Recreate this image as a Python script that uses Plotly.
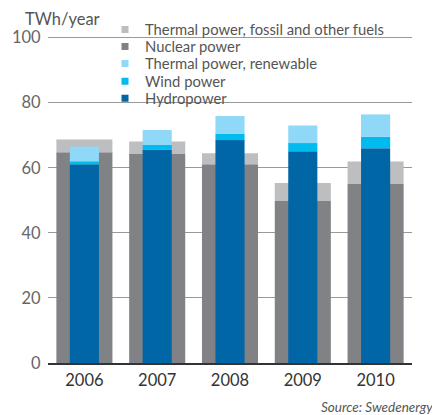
import plotly.graph_objects as go
import numpy as np

years = ["2006", "2007", "2008", "2009", "2010"]
nuclear = [64.8, 64.2, 61.1, 49.8, 55.0]
fossil = [3.9, 3.9, 3.4, 5.5, 6.9]
hydro = [61.0, 65.5, 68.5, 65.1, 66.0]
wind = [0.9, 1.5, 2.0, 2.5, 3.5]
thermal_renew = [4.6, 4.6, 5.4, 5.4, 6.9]
y_ticks = [0, 20, 40, 60, 80, 100]

C_FOSSIL = "#bcbec0"
C_NUCLEAR = "#808285"
C_TREN = "#8fd8f7"
C_WIND = "#00bbee"
C_HYDRO = "#0066a6"

FONT = "Lato, sans-serif"
W_GREY = 0.77
W_BLUE = 0.40

nuc = np.array(nuclear)
hyd = np.array(hydro)
wnd = np.array(wind)

fig = go.Figure()

def bar(y, base, color, width):
    fig.add_trace(go.Bar(
        x=years, y=y, base=base, width=width,
        marker=dict(color=color, line=dict(width=0)),
        showlegend=False, hoverinfo="x+y",
    ))

bar(nuclear, [0] * len(years), C_NUCLEAR, W_GREY)
bar(fossil, nuc.tolist(), C_FOSSIL, W_GREY)
bar(hydro, [0] * len(years), C_HYDRO, W_BLUE)
bar(wind, hyd.tolist(), C_WIND, W_BLUE)
bar(thermal_renew, (hyd + wnd).tolist(), C_TREN, W_BLUE)

legend_items = [
    ("Thermal power, fossil and other fuels", C_FOSSIL),
    ("Nuclear power", C_NUCLEAR),
    ("Thermal power, renewable", C_TREN),
    ("Wind power", C_WIND),
    ("Hydropower", C_HYDRO),
]
row_y = [1.0185, 0.9665, 0.9145, 0.8605, 0.8085]

legend_layouts = {}
for i, ((name, color), ly) in enumerate(zip(legend_items, row_y)):
    key = "legend" if i == 0 else f"legend{i + 1}"
    fig.add_trace(go.Scatter(
        x=[None], y=[None], mode="markers", name=name,
        marker=dict(symbol="square", size=7, color=color),
        legend=key, showlegend=True,
    ))
    legend_layouts[key] = dict(
        x=0.1566, y=ly, xanchor="left", yanchor="middle",
        bgcolor="rgba(0,0,0,0)", borderwidth=0,
        font=dict(size=14.8, color="#555555", family=FONT),
        itemwidth=30,
    )

# page body adds an 8px offset; the figure is sized to fit the 440x415 window
fig.update_layout(
    template="none",
    width=432, height=407,
    margin=dict(l=40, r=28, t=28, b=52, autoexpand=False),
    barmode="overlay",
    plot_bgcolor="white", paper_bgcolor="white",
    font=dict(family=FONT, color="#555555", size=15),
    xaxis=dict(
        type="category", automargin=False,
        showgrid=False, showline=True, linecolor="#333333", linewidth=1.5,
        ticks="outside", ticklen=1, tickcolor="rgba(0,0,0,0)",
        tickfont=dict(size=16.5, color="#333333"),
        range=[-0.5, 4.5], zeroline=False,
    ),
    yaxis=dict(
        automargin=False,
        range=[0, 100.5], tickvals=y_ticks, showgrid=True, gridcolor="#999999",
        gridwidth=1, zeroline=False, showline=False,
        ticks="outside", ticklen=3, tickcolor="rgba(0,0,0,0)",
        tickfont=dict(size=16.5, color="#666666"),
    ),
    annotations=[
        dict(text="TWh/year", xref="paper", yref="paper", x=-0.0665, y=1.085,
             xanchor="left", yanchor="top", showarrow=False, borderpad=0,
             font=dict(size=16.5, color="#555555")),
        dict(text="<i>Source: Swedenergy</i>", xref="paper", yref="paper",
             x=1.062, y=-0.1346, xanchor="right", yanchor="middle", showarrow=False,
             font=dict(size=13.5, color="#555555")),
    ],
    **legend_layouts,
)

fig.write_html("out.html")
